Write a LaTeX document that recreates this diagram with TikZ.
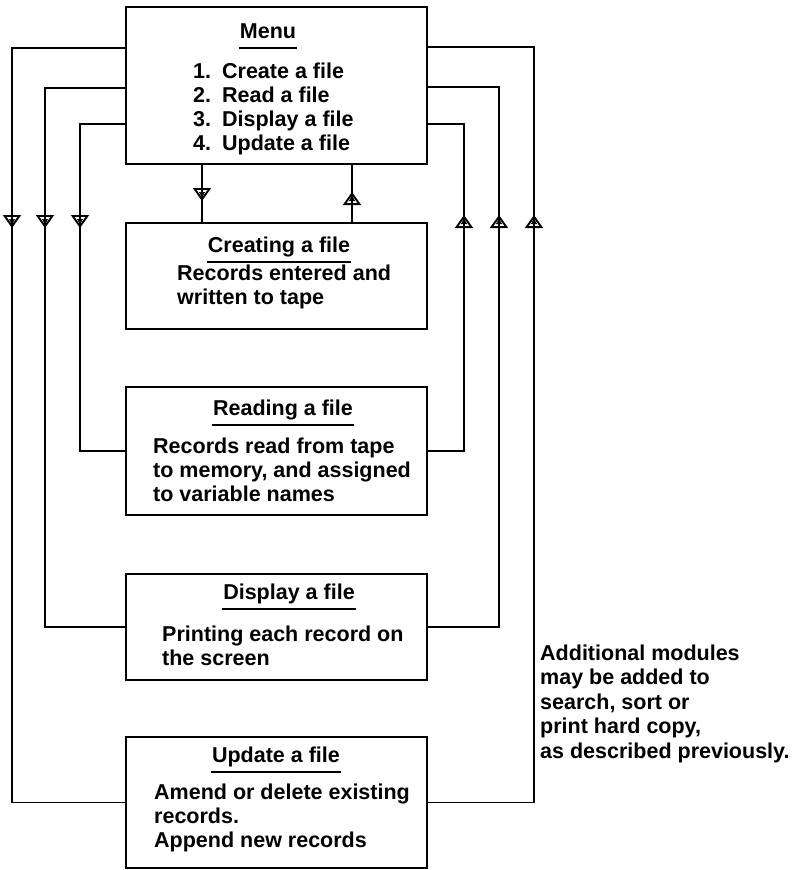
\documentclass[tikz,border=0pt]{standalone}
\usepackage{fontspec}
\setmainfont{Liberation Sans}
\usetikzlibrary{arrows.meta,positioning,calc}
\tikzstyle{module}=[draw,line width=1.8pt,minimum width=301pt,inner sep=0pt]
\tikzstyle{ttl}=[font=\bfseries\fontsize{21.5}{24}\selectfont,inner xsep=1pt,inner ysep=0pt,anchor=base]
\tikzstyle{txt}=[font=\bfseries\fontsize{21.5}{24}\selectfont,align=left,inner sep=0pt,anchor=base west]
\tikzstyle{link}=[line width=1.4pt]
\tikzstyle{tip}=[line width=1.9pt,-{Triangle[open,length=13pt,width=18pt]}]
\tikzstyle{tipin}=[line width=0.5pt,-{Triangle[length=5pt,width=6pt]}]

\begin{document}
\begin{tikzpicture}[x=1pt,y=-1pt]
        \useasboundingbox (0,0) rectangle (796,870);
        % the five modules
        \node [module,minimum height=157pt] (menu) at (276.5,85.5) {};
        \node [module,minimum height=106pt] (create) at (276.5,276) {};
        \node [module,minimum height=128pt] (read) at (276.5,451) {};
        \node [module,minimum height=106pt] (disp) at (276.5,627) {};
        \node [module,minimum height=131pt] (upd) at (276.5,802.5) {};
        % titles
        \node [ttl] (menut) at (268,38) {Menu};
        \node [ttl] (createt) at (279,252) {Creating a file};
        \node [ttl] (readt) at (283,415) {Reading a file};
        \node [ttl] (dispt) at (289,599) {Display a file};
        \node [ttl] (updt) at (276,762) {Update a file};
        \foreach \t in {menut,createt,readt,dispt,updt}
            \draw[link] ([yshift=-10pt]\t.base west) -- ([yshift=-10pt]\t.base east);
        % texts (placed at the baseline of their last line)
        \node [txt] (menub) at (193,78) {\begin{tabular}[t]{@{}l@{\hspace{11pt}}l@{}}1.&Create a file\\2.&Read a file\\3.&Display a file\\4.&Update a file\end{tabular}};
        \node [txt] (createb) at (177,304) {Records entered and\\written to tape};
        \node [txt] (readb) at (153,501) {Records read from tape\\to memory, and assigned\\to variable names};
        \node [txt] (dispb) at (162,665) {Printing each record on\\the screen};
        \node [txt] (updb) at (154,847) {Amend or delete existing\\records.\\Append new records};
        \node [txt,font=\bfseries\fontsize{21.5}{24.5}\selectfont] (note) at (540,758) {Additional modules\\may be added to\\search, sort or\\print hard copy,\\as described previously.};
        % connectors
        \coordinate (l1) at (12,228);
        \coordinate (l2) at (45,228);
        \coordinate (l3) at (80,228);
        \coordinate (r1) at (534,215);
        \coordinate (r2) at (499,215);
        \coordinate (r3) at (464,215);
        \coordinate (c1) at (202,201);
        \coordinate (c2) at (352,192);
        \draw[link] ([yshift=-42pt]menu.north west) -| (l1) |- (upd.west);
        \draw[link] ([yshift=-82pt]menu.north west) -| (l2) |- (disp.west);
        \draw[link] ([yshift=-118pt]menu.north west) -| (l3) |- (read.west);
        \draw[link] ([yshift=-41pt]menu.north east) -| (r1) |- (upd.east);
        \draw[link] ([yshift=-81pt]menu.north east) -| (r2) |- (disp.east);
        \draw[link] ([yshift=-118pt]menu.north east) -| (r3) |- (read.east);
        \draw[link] ([xshift=-74.5pt]menu.south) -- ([xshift=-74.5pt]create.north);
        \draw[link] ([xshift=75.5pt]menu.south) -- ([xshift=75.5pt]create.north);
        \foreach \c in {l1,l2,l3,c1} {
            \draw[tip] ([yshift=4pt]\c) -- (\c);
            \draw[tipin] ([yshift=12pt]\c) -- ([yshift=4pt]\c);
        }
        \foreach \c in {r1,r2,r3,c2} {
            \draw[tip] ([yshift=-4pt]\c) -- (\c);
            \draw[tipin] ([yshift=-12pt]\c) -- ([yshift=-4pt]\c);
        }
    \end{tikzpicture}
\end{document}
